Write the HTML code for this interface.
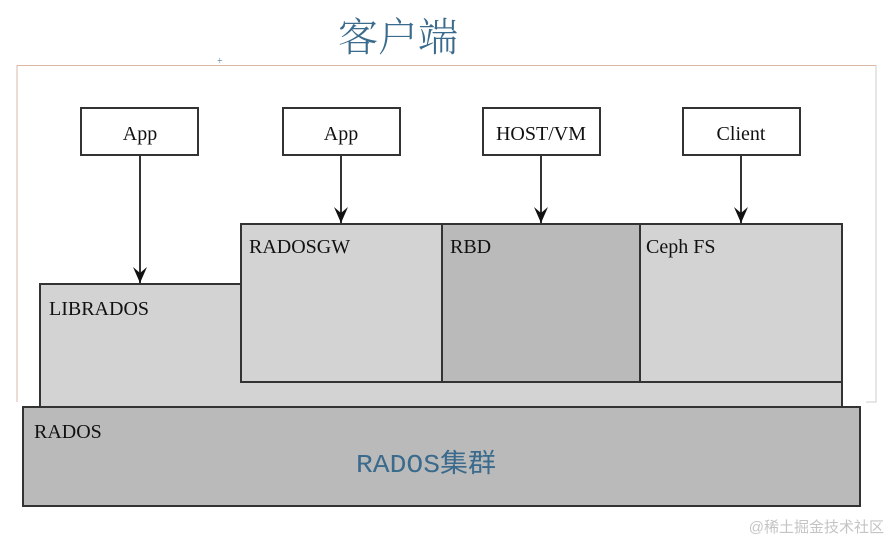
<!DOCTYPE html>
<html><head><meta charset="utf-8"><style>
html,body{margin:0;padding:0;background:#fff;}
svg{display:block;}
</style></head><body>
<svg width="888" height="541" viewBox="0 0 888 541" xmlns="http://www.w3.org/2000/svg">
<defs><marker id="a" markerWidth="18" markerHeight="14" refX="17" refY="7" orient="auto" markerUnits="userSpaceOnUse"><path d="M1,0 L17,7 L1,14 L7,7 Z" fill="#111"/></marker></defs>
<text x="338" y="51" font-family="'Noto Serif CJK SC', 'Noto Sans CJK SC', serif" font-size="40" fill="#3a6a8c" font-weight="300">客户端</text>
<path d="M17,402 L17,65.5 L876,65.5 L876,402" fill="none" stroke="#d9b8a8" stroke-width="1"/>
<path d="M876,65 L876,402 L866,402" fill="none" stroke="#ccc" stroke-width="1"/>
<text x="217" y="64" font-size="10" fill="#5a7fa0">+</text>
<g stroke="#333" stroke-width="2" font-family="'Liberation Serif', serif" font-size="20">
<rect x="40" y="284" width="802" height="123" fill="#d3d3d3"/>
<rect x="241" y="224" width="201" height="158" fill="#d3d3d3"/>
<rect x="442" y="224" width="198" height="158" fill="#bbbaba"/>
<rect x="640" y="224" width="202" height="158" fill="#d3d3d3"/>
<rect x="23" y="407" width="837" height="99" fill="#bbbaba"/>
<rect x="81" y="108" width="117" height="47" fill="#fff"/>
<rect x="283" y="108" width="117" height="47" fill="#fff"/>
<rect x="483" y="108" width="117" height="47" fill="#fff"/>
<rect x="683" y="108" width="117" height="47" fill="#fff"/>
<line x1="140" y1="155" x2="140" y2="283" marker-end="url(#a)"/>
<line x1="341" y1="155" x2="341" y2="223" marker-end="url(#a)"/>
<line x1="541" y1="155" x2="541" y2="223" marker-end="url(#a)"/>
<line x1="741" y1="155" x2="741" y2="223" marker-end="url(#a)"/>
</g>
<g font-family="'Liberation Serif', serif" font-size="20" fill="#111">
<text x="140" y="140" text-anchor="middle">App</text>
<text x="341" y="140" text-anchor="middle">App</text>
<text x="541" y="140" text-anchor="middle">HOST/VM</text>
<text x="741" y="140" text-anchor="middle">Client</text>
<text x="249" y="253">RADOSGW</text>
<text x="450" y="253">RBD</text>
<text x="646" y="253">Ceph FS</text>
<text x="49" y="315">LIBRADOS</text>
<text x="34" y="438">RADOS</text>
</g>
<text x="356" y="472" font-family="'Liberation Mono', 'Noto Sans CJK SC', monospace" font-size="26" fill="#3a6a8c" textLength="140" lengthAdjust="spacingAndGlyphs">RADOS集群</text>
<text x="884" y="532" text-anchor="end" font-family="'Liberation Sans', 'Noto Sans CJK SC', sans-serif" font-size="15" fill="#c4c4c4">@稀土掘金技术社区</text>
</svg>
</body></html>
